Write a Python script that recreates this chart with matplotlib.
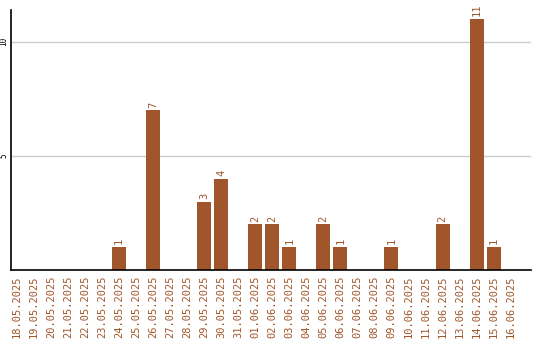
import matplotlib
matplotlib.use("Agg")
import matplotlib.pyplot as plt

# daily counts
dates = ['18.05.2025', '19.05.2025', '20.05.2025', '21.05.2025', '22.05.2025',
         '23.05.2025', '24.05.2025', '25.05.2025', '26.05.2025', '27.05.2025',
         '28.05.2025', '29.05.2025', '30.05.2025', '31.05.2025', '01.06.2025',
         '02.06.2025', '03.06.2025', '04.06.2025', '05.06.2025', '06.06.2025',
         '07.06.2025', '08.06.2025', '09.06.2025', '10.06.2025', '11.06.2025',
         '12.06.2025', '13.06.2025', '14.06.2025', '15.06.2025', '16.06.2025']
counts = [0, 0, 0, 0, 0, 0, 1, 0, 7, 0, 0, 3, 4, 0, 2, 2, 1, 0, 2, 1,
          0, 0, 1, 0, 0, 2, 0, 11, 1, 0]
yticks = [5, 10]

color = '#a0562a'
plt.rcParams['font.family'] = 'DejaVu Sans Mono'

fig = plt.figure(figsize=(5.4, 3.4), dpi=100)
ax = fig.add_axes([0.0204, 0.206, 0.963, 0.765])

x = range(len(dates))
ax.bar(x, counts, width=0.82, color=color, zorder=2)
for i, v in enumerate(counts):
    if v > 0:
        ax.text(i, v + 0.12, str(v), rotation=90, ha='center', va='bottom',
                fontsize=7.5, color=color)

ax.set_xlim(-0.35, 30.2)
ax.set_ylim(0, 11.4)
ax.set_xticks(list(x))
ax.set_xticklabels(dates, rotation=90, fontsize=7.5, color=color)
ax.set_yticks(yticks)
ax.set_yticklabels([str(t) for t in yticks], rotation=90, fontsize=5.5, va='center')
ax.tick_params(axis='x', length=0, pad=4)
ax.tick_params(axis='y', length=0, pad=2)
ax.grid(axis='y', color='#cccccc', linewidth=1, zorder=0)
for s in ['top', 'right']:
    ax.spines[s].set_visible(False)
ax.spines['left'].set_linewidth(1.2)
ax.spines['bottom'].set_linewidth(1.2)

fig.savefig('out.png', dpi=100)
